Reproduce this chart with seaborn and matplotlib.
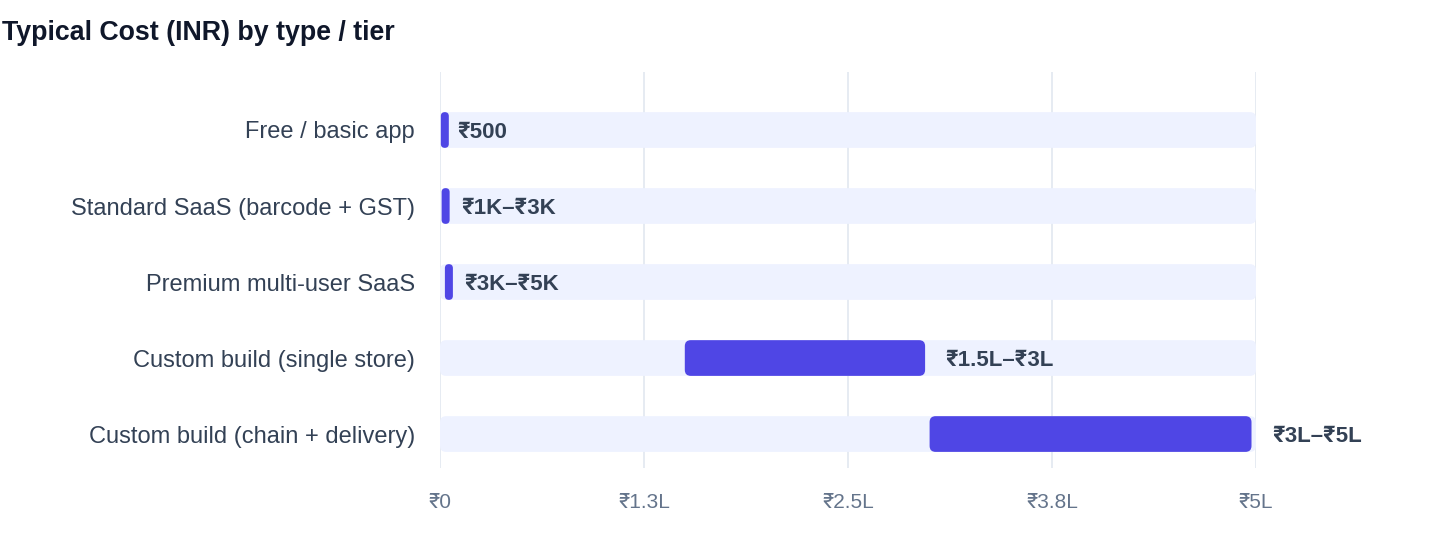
import numpy as np
import pandas as pd
import matplotlib
matplotlib.use("Agg")
import matplotlib.pyplot as plt
import seaborn as sns
from matplotlib.patches import FancyBboxPatch

# Data
tiers = [
    "Free / basic app",
    "Standard SaaS (barcode + GST)",
    "Premium multi-user SaaS",
    "Custom build (single store)",
    "Custom build (chain + delivery)",
]
cost_low = [500, 1000, 3000, 150000, 300000]
cost_high = [500, 3000, 5000, 300000, 500000]
cost_labels = ["₹500", "₹1K–₹3K", "₹3K–₹5K", "₹1.5L–₹3L", "₹3L–₹5L"]
tick_values = [0, 125000, 250000, 375000, 500000]
tick_labels = ["₹0", "₹1.3L", "₹2.5L", "₹3.8L", "₹5L"]
axis_max = 500000

BAR = "#4F46E5"
TRACK = "#EEF2FF"
GRID = "#E2E8F0"

sns.set_theme(style="white")
# Liberation Sans has no rupee sign, Inter supplies it (in bold too)
plt.rcParams["font.family"] = ["Liberation Sans", "Inter", "DejaVu Sans"]

df = pd.DataFrame({
    "tier": tiers,
    "low": cost_low,
    "high": cost_high,
    "label": cost_labels,
    "track": [axis_max] * len(tiers),
})

fig = plt.figure(figsize=(14.4, 5.6), dpi=100)
ax = fig.add_axes([440 / 1440, 1 - 468 / 560, 816 / 1440, 396 / 560])

bar_h = 0.47
sns.barplot(data=df, x="track", y="tier", orient="h", color=TRACK,
            width=bar_h, saturation=1, ax=ax, zorder=2)
n_track = len(ax.patches)
sns.barplot(data=df, x="high", y="tier", orient="h", color=BAR,
            width=bar_h, saturation=1, ax=ax, zorder=3)

ax.set_xlim(0, axis_max)
ax.set_ylim(len(tiers) - 1 + 0.447, -0.763)

# pixel -> data conversions
px_x = axis_max / 816
px_y = (len(tiers) - 1 + 0.447 + 0.763) / 396
aspect = px_y / px_x

# swap the plain rectangles for rounded ones, range bars start at "low"
patches = list(ax.patches)
for i, p in enumerate(patches):
    x0, y0, w, h = p.get_x(), p.get_y(), p.get_width(), p.get_height()
    fc = p.get_facecolor()
    z = p.get_zorder()
    if i >= n_track:
        row = df.iloc[i - n_track]
        x0 = row["low"]
        w = max(row["high"] - row["low"] - 4.5 * px_x, 8 * px_x)
    r = min(6 * px_x, w / 2)
    p.remove()
    ax.add_patch(FancyBboxPatch((x0, y0), w, h,
                                boxstyle=f"round,pad=0,rounding_size={r}",
                                mutation_aspect=aspect, facecolor=fc,
                                edgecolor="none", zorder=z))

# value labels
for i, row in df.iterrows():
    ax.text(row["high"] + 16 * px_x, i, row["label"], va="center_baseline",
            ha="left", fontsize=16, fontweight="bold", color="#334155",
            clip_on=False, zorder=5)

ax.set_xticks(tick_values)
ax.set_xticklabels(tick_labels)
ax.grid(axis="x", color=GRID, linewidth=1.2, zorder=0)
ax.grid(axis="y", visible=False)
ax.set_axisbelow(True)
for s in ax.spines.values():
    s.set_visible(False)
ax.tick_params(axis="x", length=0, pad=18, labelsize=15, labelcolor="#64748B")
ax.tick_params(axis="y", length=0, pad=18, labelsize=17, labelcolor="#334155")
ax.set_xlabel("")
ax.set_ylabel("")

fig.text(2 / 1440, 1 - 33 / 560, "Typical Cost (INR) by type / tier",
         fontsize=19.3, fontweight="bold", color="#0F172A", va="center", ha="left")

fig.savefig("out.png", dpi=100)
